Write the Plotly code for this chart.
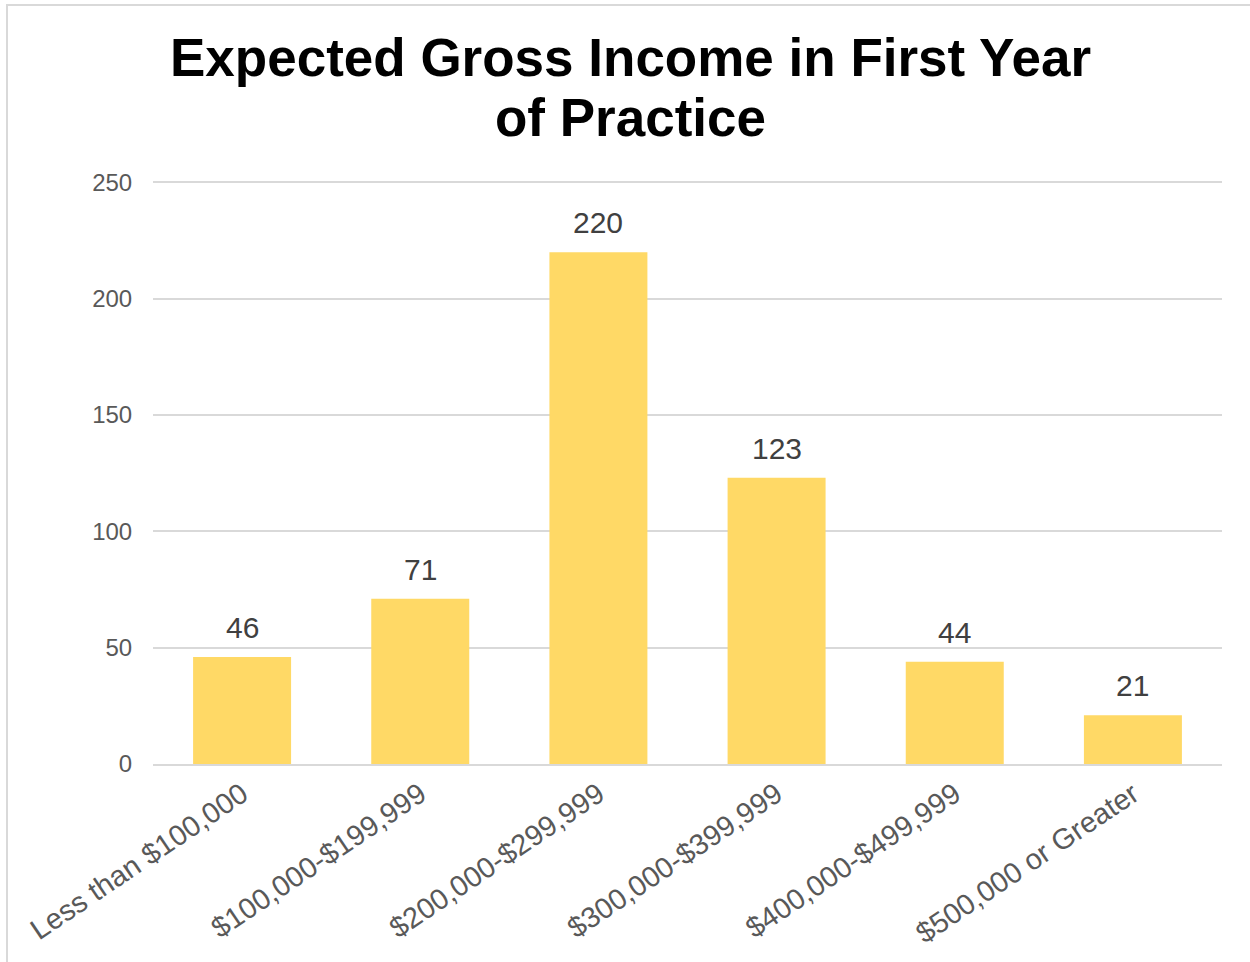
import plotly.graph_objects as go

categories = [
    "Less than $100,000",
    "$100,000-$199,999",
    "$200,000-$299,999",
    "$300,000-$399,999",
    "$400,000-$499,999",
    "$500,000 or Greater",
]
counts = [46, 71, 220, 123, 44, 21]
y_ticks = [0, 50, 100, 150, 200, 250]
title_lines = ["Expected Gross Income in First Year", "of Practice"]

FONT = "Liberation Sans, Arial, sans-serif"
W, H = 1250, 962
ml, mr, mt, mb = 153, 28, 180, 198
pw, ph = W - ml - mr, H - mt - mb


def px_x(p):
    return (p - ml) / pw


def px_y(p):
    return (H - mb - p) / ph


fig = go.Figure(
    go.Bar(
        x=categories,
        y=counts,
        marker=dict(color="#FFD966", line=dict(width=0)),
        hoverinfo="skip",
    )
)

# value labels above each bar
annotations = [
    dict(
        x=c,
        y=v,
        xref="x",
        yref="y",
        text=str(v),
        showarrow=False,
        yanchor="bottom",
        yshift=11,
        font=dict(family=FONT, size=30, color="#404040"),
    )
    for c, v in zip(categories, counts)
]

# two-line chart title
for line, baseline in zip(title_lines, [77, 137]):
    annotations.append(
        dict(
            x=px_x(630),
            y=px_y(baseline - 19),
            xref="paper",
            yref="paper",
            text=f"<b>{line}</b>",
            showarrow=False,
            xanchor="center",
            yanchor="middle",
            font=dict(family=FONT, size=53, color="black"),
        )
    )

fig.update_layout(
    width=W,
    height=H,
    margin=dict(l=ml, r=mr, t=mt, b=mb),
    paper_bgcolor="white",
    plot_bgcolor="white",
    bargap=0.45,
    showlegend=False,
    annotations=annotations,
    xaxis=dict(
        tickangle=-34,
        tickfont=dict(family=FONT, size=29, color="#595959"),
        showgrid=False,
        showline=True,
        linecolor="#D9D9D9",
        linewidth=2,
        ticks="",
    ),
    yaxis=dict(
        range=[0, 251],
        tickvals=y_ticks,
        tickfont=dict(family=FONT, size=24, color="#595959"),
        showgrid=True,
        gridcolor="#D9D9D9",
        gridwidth=1.5,
        zeroline=False,
        showline=False,
        ticks="outside",
        ticklen=15,
        tickcolor="rgba(0,0,0,0)",
    ),
    shapes=[
        dict(
            type="rect",
            xref="paper",
            yref="paper",
            x0=px_x(7),
            x1=px_x(W + 10),
            y0=px_y(H + 10),
            y1=px_y(5),
            line=dict(color="#D9D9D9", width=2),
            fillcolor="rgba(0,0,0,0)",
            layer="below",
        )
    ],
)

fig.write_html("out.html")
